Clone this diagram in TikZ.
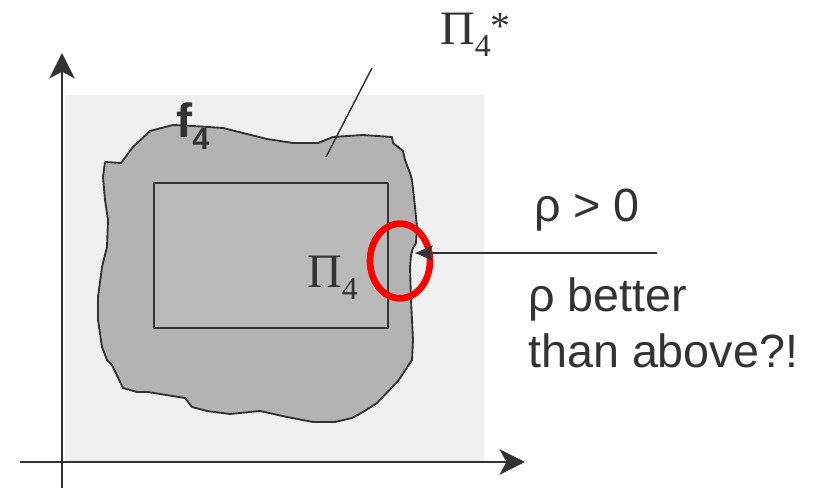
\documentclass[tikz,border=0pt]{standalone}
\usepackage{fontspec}
\setmainfont{Liberation Sans}
\newfontfamily\piserif{Liberation Serif}
\definecolor{bgGray}{HTML}{F0F0F0}
\definecolor{blobGray}{HTML}{B3B3B3}
\definecolor{boxGray}{HTML}{BABABA}
\definecolor{inkGray}{HTML}{333333}
\definecolor{ringRed}{HTML}{FF0000}
\usetikzlibrary{arrows.meta,positioning,shapes.geometric}
% Pi with a lowered index
\newcommand{\piidx}[1]{{\piserif\fontsize{36}{36}\selectfont Π\raisebox{-9pt}{\fontsize{24}{24}\selectfont #1}}}

\begin{document}
\begin{tikzpicture}[x=0.75pt, y=-0.75pt,
    every node/.style={inner sep=0pt, text=inkGray},
    axis/.style={line width=2.2pt, draw=inkGray, -{Stealth[length=19pt,width=19pt,inset=5pt]}},
    outline/.style={line width=1.4pt, draw=inkGray, line join=round},
    remark/.style={font=\fontsize{35}{42}\selectfont, align=left}]
        \useasboundingbox (0,0) rectangle (819,488);
        % Feasible area
        \fill[bgGray] (65,95) rectangle (484,461);
        \draw[outline, fill=blobGray] plot coordinates
          {(105,162) (121,163) (133,147) (150,131) (173,125) (193,126) (223,128)
           (267,139) (293,143) (318,143) (333,137) (363,135) (392,137) (393,143)
           (403,151) (405,160) (410,173) (412,180) (415,207) (417,227) (416,243)
           (413,248) (411,255) (410,267) (411,300) (412,320) (413,340) (412,360)
           (398,381) (377,403) (363,412) (352,418) (335,422) (313,422) (287,417)
           (260,411) (230,414) (207,411) (192,407) (185,398) (160,394) (148,392)
           (137,392) (123,388) (112,365) (107,360) (102,347) (98,320) (98,297)
           (102,267) (107,247) (108,220) (105,200) (103,177)} -- cycle;
        \draw[outline, fill=boxGray] (154,183) rectangle (388,328);
        % Axes
        \coordinate (xfrom) at (20,462);
        \coordinate (xto) at (525,462);
        \coordinate (yfrom) at (62,488);
        \coordinate (yto) at (62,53);
        \draw[axis] (xfrom) -- (xto);
        \draw[axis] (yfrom) -- (yto);
        % Labels
        \node[anchor=base west] (pistar) at (440,45) {\piidx{4}\raisebox{4pt}{\piserif\fontsize{30}{30}\selectfont *}};
        \node[anchor=base west] (pibox) at (307,288) {\piidx{4}};
        \node[anchor=base west, font=\bfseries\fontsize{36}{36}\selectfont] (fname) at (176,138)
          {f\raisebox{-9pt}{\fontsize{23}{23}\selectfont 4}};
        \coordinate (leadfrom) at (372,68);
        \coordinate (leadto) at (326,157);
        \draw[line width=1.1pt, inkGray] (leadfrom) -- (leadto);
        % Critical spot
        \node[ellipse, draw=ringRed, line width=5pt, minimum width=45pt, minimum height=56pt] (ring) at (400,261) {};
        \coordinate (hint) at (657,253);
        \coordinate (spot) at (415,253);
        \draw[line width=1.5pt, inkGray, -{Stealth[length=13pt,width=11pt,inset=2pt]}] (hint) -- (spot);
        \node[remark, anchor=base west] (rhopos) at (534,222) {ρ > 0};
        \node[remark, anchor=base west] (rhobetter) at (528,368) {ρ better\\than above?!};
      \end{tikzpicture}
\end{document}
